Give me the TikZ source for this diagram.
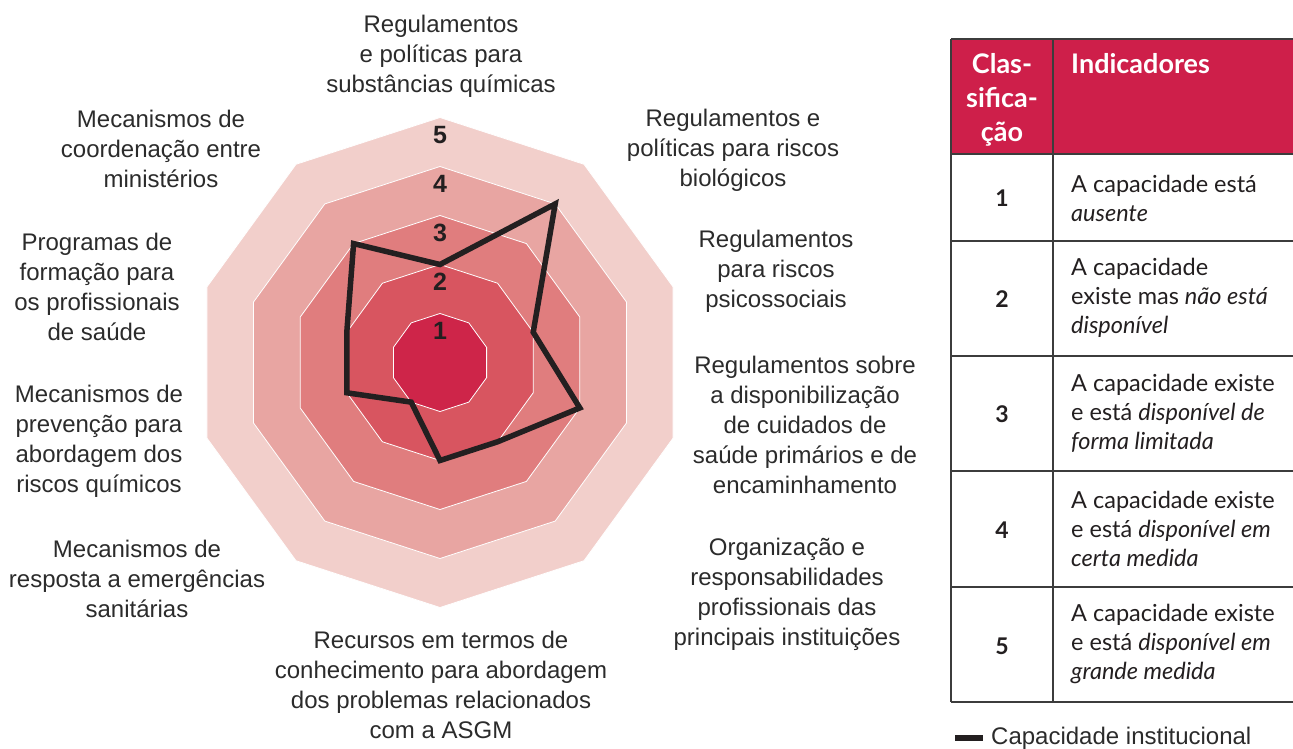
\documentclass[tikz,border=0pt]{standalone}
\usepackage{fontspec}
\setmainfont{Liberation Sans}
\newfontfamily\tabfont{Lato}
\usetikzlibrary{positioning}

\definecolor{lvlA}{HTML}{CE2549}
\definecolor{lvlB}{HTML}{D85560}
\definecolor{lvlC}{HTML}{E07D7E}
\definecolor{lvlD}{HTML}{E8A5A2}
\definecolor{lvlE}{HTML}{F2CFCB}
\definecolor{headred}{HTML}{CE1F4A}
\definecolor{ink}{HTML}{231F20}
\definecolor{txtgray}{HTML}{2B2B2B}
\definecolor{rule}{HTML}{3C3C3C}

\begin{document}
\begin{tikzpicture}[x=1pt, y=-1pt,
    axislbl/.style={align=center, text=txtgray, inner sep=0pt, font=\fontsize{24}{30}\selectfont},
    levelnum/.style={text=ink, inner sep=0pt, font=\bfseries\fontsize{25}{25}\selectfont},
    headtxt/.style={text=white, inner sep=0pt, font=\tabfont\bfseries\fontsize{27}{34}\selectfont},
    cellnum/.style={text=ink, inner sep=0pt, font=\tabfont\bfseries\fontsize{23}{23}\selectfont},
    celltxt/.style={anchor=west, align=left, text=ink, inner sep=0pt, font=\tabfont\fontsize{23.5}{29}\selectfont}]
    \useasboundingbox (0,0) rectangle (1293,749);
    \clip (0,0) rectangle (1293,749);
    \coordinate (ctr) at (440,362.5);

      \foreach \k/\c in {5/lvlE,4/lvlD,3/lvlC,2/lvlB,1/lvlA}{
        \filldraw[fill=\c, draw=white, line width=0.8pt]
          ([shift={(90:{49*\k pt})}]ctr)
          \foreach \a in {1,...,9}{ -- ([shift={({90+36*\a}:{49*\k pt})}]ctr)} -- cycle;
      }
      \foreach \k in {1,...,5}
        \node[levelnum] (num\k) at ([yshift=\k*49pt-17.5pt]ctr) {\k};

      \foreach \v [count=\i] in {2,4,2,3,2,2,1,2,2,3}
        \coordinate (d\i) at ([shift={({90-36*(\i-1)}:{\v*49pt})}]ctr);
      \draw[ink, line width=5.5pt, line join=miter]
        (d1) \foreach \i in {2,...,10}{ -- (d\i)} -- cycle;

      \node[axislbl] (ax1) at (441,56) {Regulamentos\\e políticas para\\substâncias químicas};
      \node[axislbl] (ax2) at (733,150) {Regulamentos e\\políticas para riscos\\biológicos};
      \node[axislbl] (ax3) at (776,271) {Regulamentos\\para riscos\\psicossociais};
      \node[axislbl] (ax4) at (805,425) {Regulamentos sobre\\a disponibilização\\de cuidados de\\saúde primários e de\\encaminhamento};
      \node[axislbl] (ax5) at (787,594) {Organização e\\responsabilidades\\profissionais das\\principais instituições};
      \node[axislbl] (ax6) at (441,685) {Recursos em termos de\\conhecimento para abordagem\\dos problemas relacionados\\com a ASGM};
      \node[axislbl] (ax7) at (137,579) {Mecanismos de\\resposta a emergências\\sanitárias};
      \node[axislbl] (ax8) at (99,441) {Mecanismos de\\prevenção para\\abordagem dos\\riscos químicos};
      \node[axislbl] (ax9) at (97,287) {Programas de\\formação para\\os profissionais\\de saúde};
      \node[axislbl] (ax10) at (161,149) {Mecanismos de\\coordenação entre\\ministérios};

      \fill[headred] (951,39) rectangle (1293,154);
      \foreach \y in {39,154,241,356,471,587,702}
        \draw[rule, line width=1.3pt] (951,\y) -- (1293,\y);
      \draw[rule, line width=1.3pt] (951,39) -- (951,702);
      \draw[rule, line width=1.3pt] (1053,39) -- (1053,702);

      \node[headtxt, align=center] (hcls) at (1002,100) {Clas-\\sifica-\\ção};
      \node[headtxt, anchor=west] (hind) at (1071,64) {Indicadores};

      \node[cellnum] (c1) at (1002,198) {1};
      \node[celltxt] (t1) at (1071,198) {A capacidade está\\\textit{ausente}};
      \node[cellnum] (c2) at (1002,299) {2};
      \node[celltxt] (t2) at (1071,298) {A capacidade\\existe mas \textit{não está}\\\textit{disponível}};
      \node[cellnum] (c3) at (1002,414) {3};
      \node[celltxt] (t3) at (1071,413) {A capacidade existe\\e está \textit{disponível de}\\\textit{forma limitada}};
      \node[cellnum] (c4) at (1002,530) {4};
      \node[celltxt] (t4) at (1071,529) {A capacidade existe\\e está \textit{disponível em}\\\textit{certa medida}};
      \node[cellnum] (c5) at (1002,646) {5};
      \node[celltxt] (t5) at (1071,644) {A capacidade existe\\e está \textit{disponível em}\\\textit{grande medida}};

      \fill[ink] (955,735) rectangle (983,741);
      \node[anchor=base west, inner sep=0pt, text=txtgray, font=\fontsize{24}{30}\selectfont] (lgd) at (991,744) {Capacidade institucional};
    \end{tikzpicture}
\end{document}
